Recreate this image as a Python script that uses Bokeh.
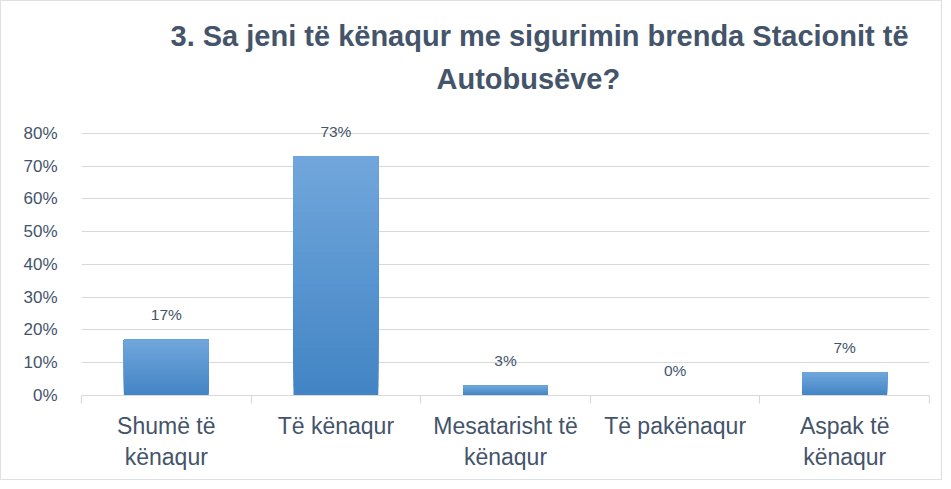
import numpy as np
from bokeh.plotting import figure
from bokeh.models import (Range1d, FixedTicker, ColumnDataSource, LabelSet,
                          PrintfTickFormatter, Title)
from bokeh.core.properties import value
from bokeh.embed import file_html
from bokeh.resources import INLINE

# ---- data ----
categories = ["Shumë të\nkënaqur", "Të kënaqur", "Mesatarisht të\nkënaqur",
              "Të pakënaqur", "Aspak të\nkënaqur"]
values = [17, 73, 3, 0, 7]            # percent
y_ticks = [0, 10, 20, 30, 40, 50, 60, 70, 80]
title_line1 = "3. Sa jeni të kënaqur me sigurimin brenda Stacionit të"
title_line2 = "Autobusëve?"

TXT = "#44546A"
SANS = "Liberation Sans"

n = len(categories)
xc = np.arange(n) + 0.5

p = figure(width=942, height=480, output_backend="svg", toolbar_location=None,
           title=None,
           x_range=Range1d(0, n), y_range=Range1d(0, 85.8),
           min_border_left=80, min_border_right=14, min_border_top=113,
           min_border_bottom=86)
p.styles = {"border": "1px solid #DCDFE4"}
p.outline_line_color = None
p.background_fill_color = "white"
p.border_fill_color = "white"

# gradient bars built from overlapping stacked slices (drawn bottom to top)
K = 30
top_c = np.array([0x71, 0xA7, 0xDC])
bot_c = np.array([0x42, 0x84, 0xC4])
xs, bots, tops, cols = [], [], [], []
for i, v in enumerate(values):
    if v <= 0:
        continue
    for k in range(K):
        f = (k + 0.5) / K
        c = bot_c + (top_c - bot_c) * f
        xs.append(xc[i]); bots.append(v * k / K); tops.append(v)
        cols.append("#%02x%02x%02x" % tuple(int(round(t)) for t in c))
src = ColumnDataSource(dict(x=xs, bottom=bots, top=tops, color=cols))
p.vbar(x="x", bottom="bottom", top="top", width=0.5, source=src,
       fill_color="color", line_color=None)

lab = ColumnDataSource(dict(x=xc, y=values, t=["%d%%" % v for v in values]))
p.add_layout(LabelSet(x="x", y="y", text="t", source=lab, text_align="center",
                      text_baseline="middle", y_offset=25,
                      text_font=value(SANS), text_font_size=value("15.5px"),
                      text_color=TXT))

# y axis
p.yaxis.ticker = FixedTicker(ticks=y_ticks)
p.yaxis.formatter = PrintfTickFormatter(format="%d%%")
p.yaxis.axis_line_color = None
p.yaxis.major_tick_line_color = None
p.yaxis.minor_tick_line_color = None
p.yaxis.major_label_standoff = 18
p.yaxis.major_label_text_font = SANS
p.yaxis.major_label_text_font_size = "17px"
p.yaxis.major_label_text_color = TXT
p.ygrid.grid_line_color = "#D9D9D9"
p.ygrid.grid_line_width = 1.2
p.xgrid.grid_line_color = None

# x axis: labels at centres, ticks at boundaries (minor ticks)
p.xaxis.ticker = FixedTicker(ticks=list(xc), minor_ticks=list(range(n + 1)))
p.xaxis.major_label_overrides = {float(x): c for x, c in zip(xc, categories)}
p.xaxis.axis_line_color = "#D9D9D9"
p.xaxis.axis_line_width = 1.2
p.xaxis.major_tick_line_color = None
p.xaxis.minor_tick_line_color = "#D9D9D9"
p.xaxis.minor_tick_line_width = 1.2
p.xaxis.minor_tick_in = 0
p.xaxis.minor_tick_out = 8
p.xaxis.major_tick_out = 0
p.xaxis.major_tick_in = 0
p.xaxis.major_label_standoff = 9
p.xaxis.major_label_text_font = SANS
p.xaxis.major_label_text_font_size = "23px"
p.xaxis.major_label_text_color = TXT
p.xaxis.major_label_text_line_height = 1.2

# two title lines (later added = further from the frame)
p.add_layout(Title(text=title_line2, align="left", text_font=SANS,
                   text_font_size="29px", text_font_style="bold",
                   text_color=TXT, offset=355, standoff=40), "above")
p.add_layout(Title(text=title_line1, align="left", text_font=SANS,
                   text_font_size="29px", text_font_style="bold",
                   text_color=TXT, offset=89, standoff=-22), "above")

open("out.html", "w").write(file_html(p, INLINE))
